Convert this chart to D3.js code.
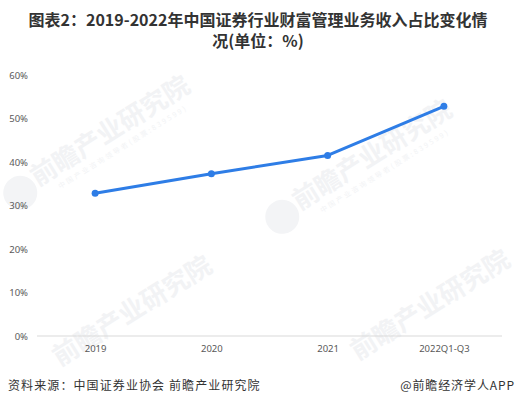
<!DOCTYPE html>
<html><head><meta charset="utf-8">
<script src="https://cdn.jsdelivr.net/npm/d3@7"></script>
<style>body{margin:0;background:#fff}svg{display:block}</style>
</head><body>
<svg id="c" width="516" height="406"></svg>
<script>
const categories = ["2019", "2020", "2021", "2022Q1-Q3"];
const values = [32.8, 37.3, 41.5, 52.8];
const yTicks = [0, 10, 20, 30, 40, 50, 60];
const titleLines = ["图表2：2019-2022年中国证券行业财富管理业务收入占比变化情", "况(单位：%)"];
const sourceText = "资料来源：中国证券业协会 前瞻产业研究院";
const brandText = "@前瞻经济学人APP";

const W = 516, H = 406;
const svg = d3.select("#c");
const cjk = "'Noto Sans CJK SC', 'Noto Sans', sans-serif";
const lat = "'Noto Sans', 'DejaVu Sans', sans-serif";

// watermarks
const wm = [[30, 182, true], [292, 206, true], [52, 362, false], [350, 356, false]];
wm.forEach(([x, y, full]) => {
  const g = svg.append("g").attr("transform", `translate(${x},${y}) rotate(-32)`);
  if (full) g.append("circle").attr("cx", -14).attr("cy", 4).attr("r", 17).attr("fill", "#f3f4f6");
  g.append("text").attr("x", 4).attr("y", 8).attr("font-family", cjk).attr("font-weight", "bold")
    .attr("font-size", 26).attr("fill", "#f2f3f5").text("前瞻产业研究院");
  if (full) g.append("text").attr("x", 22).attr("y", 22).attr("font-family", cjk)
    .attr("font-size", 7).attr("letter-spacing", 2.2).attr("fill", "#f2f3f5").text("中国产业咨询领导者(股票:839599)");
});

const x = d3.scalePoint().domain(categories).range([37, 502]).padding(0.5);
const y = d3.scaleLinear().domain([0, 60]).range([336, 75]);

// title
titleLines.forEach((t, i) => {
  svg.append("text").attr("x", W / 2).attr("y", 25.5 + i * 21.5).attr("text-anchor", "middle")
    .attr("font-family", cjk).attr("font-weight", "bold").attr("font-size", 16).attr("fill", "#333").text(t);
});

// y axis (labels only)
const yAxis = d3.axisLeft(y).tickValues(yTicks).tickFormat(d => d + "%").tickSize(0).tickPadding(0);
const gy = svg.append("g").attr("transform", "translate(28,0)").call(yAxis);
gy.select(".domain").remove();
gy.selectAll("text").attr("font-family", lat).attr("font-size", 9.5).attr("fill", "#595959");

// x axis
const xAxis = d3.axisBottom(x).tickSize(0).tickPadding(9);
const gx = svg.append("g").attr("transform", "translate(0,336)").call(xAxis);
gx.select(".domain").attr("stroke", "#d9d9d9").attr("d", "M37,0H502");
gx.selectAll("text").attr("font-family", lat).attr("font-size", 9.5).attr("fill", "#595959");

// line
const line = d3.line().x((d, i) => x(categories[i])).y(d => y(d));
svg.append("path").datum(values).attr("d", line).attr("fill", "none")
  .attr("stroke", "#2e7de6").attr("stroke-width", 3).attr("stroke-linejoin", "round");
svg.selectAll("circle.pt").data(values).enter().append("circle").attr("class", "pt")
  .attr("cx", (d, i) => x(categories[i])).attr("cy", d => y(d)).attr("r", 3.5).attr("fill", "#2e7de6");

// footer
svg.append("text").attr("x", 8).attr("y", 390).attr("font-family", cjk).attr("font-size", 12)
  .attr("letter-spacing", 1.1).attr("fill", "#333").text(sourceText);
svg.append("text").attr("x", 515).attr("y", 390).attr("text-anchor", "end").attr("font-family", cjk)
  .attr("font-size", 12).attr("letter-spacing", 0.9).attr("fill", "#333").text(brandText);
</script>
</body></html>
